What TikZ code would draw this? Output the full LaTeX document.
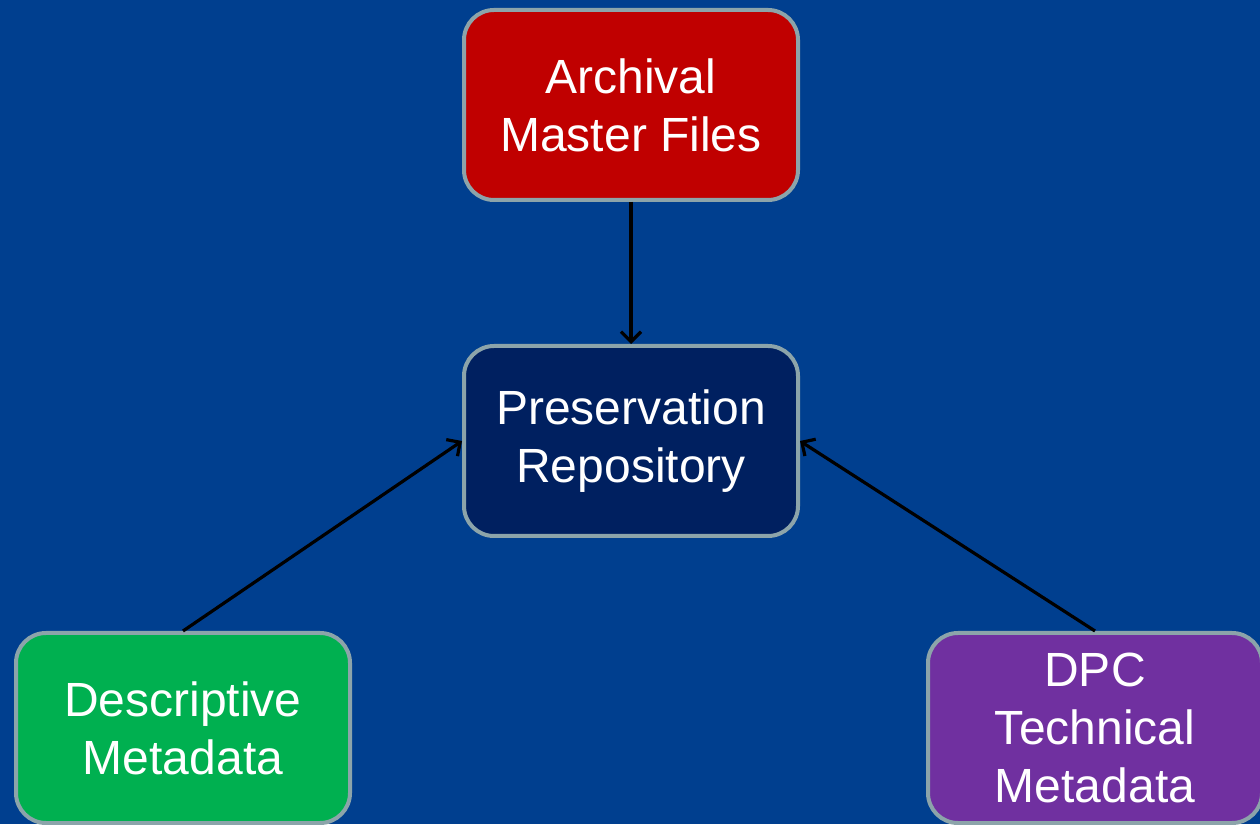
\documentclass[tikz,border=0pt]{standalone}
\usepackage{fontspec}
\setmainfont{Liberation Sans}
\usetikzlibrary{arrows.meta}
\definecolor{bgblue}{RGB}{0,63,143}
\definecolor{boxred}{RGB}{192,0,0}
\definecolor{boxnavy}{RGB}{0,32,96}
\definecolor{boxgreen}{RGB}{0,176,80}
\definecolor{boxpurple}{RGB}{112,48,160}
\definecolor{edgegray}{RGB}{140,164,170}
\tikzset{
  block/.style={draw=edgegray, line width=4pt, rounded corners=30pt,
    minimum width=334pt, minimum height=190pt, inner sep=0pt,
    align=center, text=white,
    font=\fontsize{48}{58}\selectfont},
  link/.style={draw=black, line width=3.2pt,
    -{Straight Barb[length=10pt,width=20pt]}}
}
\begin{document}
\begin{tikzpicture}[x=1pt,y=1pt]
  \useasboundingbox (0,0) rectangle (1260,824);
  \fill[bgblue] (0,0) rectangle (1260,824);
  \begin{scope}
    \clip (0,0) rectangle (1260,824);
    \node[block, fill=boxred]    (amf)  at (631,719) {Archival\\Master Files};
    \node[block, fill=boxnavy]   (repo) at (631,383) {Preservation\\Repository};
    \node[block, fill=boxgreen]  (desc) at (183,96)  {Descriptive\\Metadata};
    \node[block, fill=boxpurple] (tech) at (1095,96) {DPC\\Technical\\Metadata};
    \draw[link] (amf.south) -- (repo.north);
    \draw[link] (desc.north) -- (repo.west);
    \draw[link] (tech.north) -- (repo.east);
  \end{scope}
\end{tikzpicture}
\end{document}
